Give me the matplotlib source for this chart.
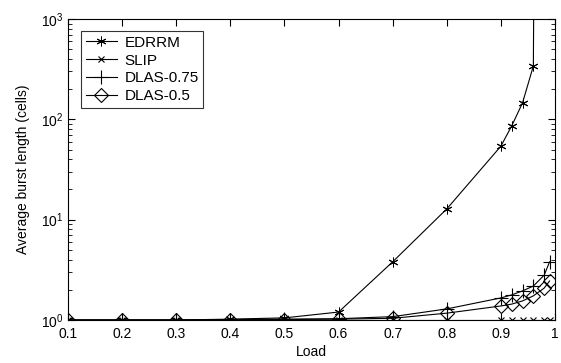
import matplotlib
matplotlib.use("Agg")
import matplotlib.pyplot as plt
import numpy as np

plt.rcParams["font.family"] = ["Liberation Sans", "DejaVu Sans"]

load = [0.1, 0.2, 0.3, 0.4, 0.5, 0.6, 0.7, 0.8, 0.9, 0.92, 0.94, 0.96, 0.98, 0.99]
edrrm_load = [0.1, 0.2, 0.3, 0.4, 0.5, 0.6, 0.7, 0.8, 0.9, 0.92, 0.94, 0.96, 0.98]
edrrm = [1.0, 1.0, 1.0, 1.02, 1.05, 1.2, 3.8, 12.8, 54, 86, 146, 340, 1e20]
slip = [1.0, 1.0, 1.0, 1.0, 1.0, 1.0, 1.0, 1.0, 1.0, 1.0, 1.0, 1.0, 1.0, 1.0]
dlas75 = [1.0, 1.0, 1.0, 1.01, 1.02, 1.03, 1.08, 1.29, 1.66, 1.78, 1.95, 2.18, 2.8, 3.8]
dlas50 = [1.0, 1.0, 1.0, 1.0, 1.01, 1.02, 1.04, 1.17, 1.38, 1.44, 1.55, 1.74, 2.08, 2.45]

fig = plt.figure(figsize=(5.61, 3.63), dpi=100)
ax = fig.add_axes([68 / 561, 43 / 363, 487 / 561, 301 / 363])

kw = dict(color="black", linewidth=0.8, markerfacecolor="none", markeredgecolor="black")
ax.plot(edrrm_load, edrrm, marker=(6, 2, 0), markersize=7, markeredgewidth=0.7, label="EDRRM", **kw)
ax.plot(load, slip, marker="x", markersize=4, markeredgewidth=0.8, label="SLIP", **kw)
ax.plot(load, dlas75, marker="+", markersize=10, markeredgewidth=0.8, label="DLAS-0.75", **kw)
ax.plot(load, dlas50, marker="D", markersize=7, markeredgewidth=0.8, label="DLAS-0.5", **kw)

ax.set_yscale("log")
ax.set_xlim(0.1, 1.0)
ax.set_ylim(1, 1000)
ax.set_xticks([0.1, 0.2, 0.3, 0.4, 0.5, 0.6, 0.7, 0.8, 0.9, 1.0])
ax.set_xticklabels(["0.1", "0.2", "0.3", "0.4", "0.5", "0.6", "0.7", "0.8", "0.9", "1"])
ax.tick_params(which="both", direction="in", top=True, right=True, labelsize=10)
ax.tick_params(which="major", length=5)
ax.tick_params(axis="x", pad=5)
ax.tick_params(axis="y", pad=3)
ax.tick_params(which="minor", length=3)
ax.set_xlabel("Load", fontsize=10, labelpad=3)
ax.set_ylabel("Average burst length (cells)", fontsize=10, labelpad=8)

leg = ax.legend(loc="upper left", fontsize=11, frameon=True, fancybox=False,
                edgecolor="black", handlelength=2.0, handletextpad=0.5, borderpad=0.3,
                labelspacing=0.25, bbox_to_anchor=(0.012, 0.985))
leg.get_frame().set_linewidth(0.8)

fig.savefig("out.png", dpi=100)
